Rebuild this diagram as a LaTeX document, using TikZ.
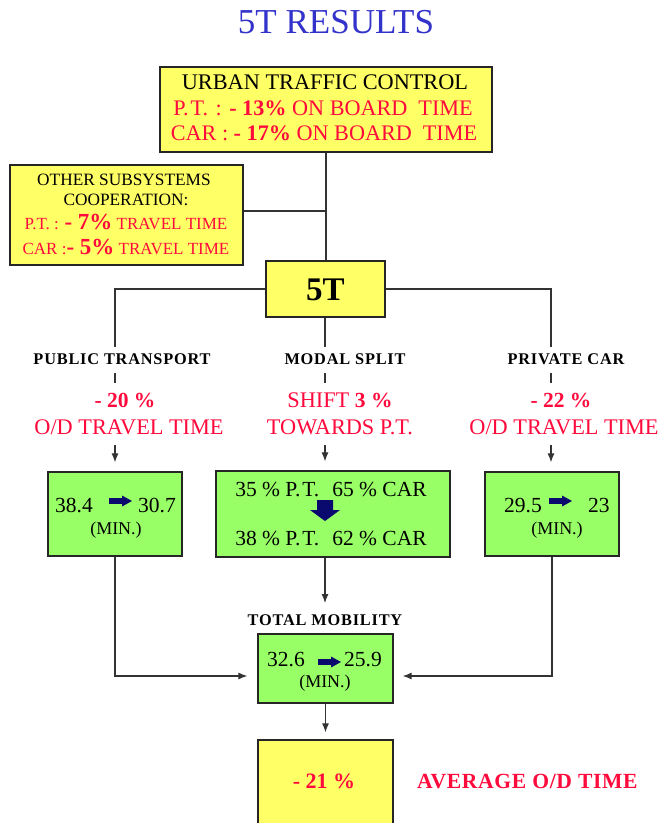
\documentclass[tikz,border=0pt]{standalone}
\usepackage{fontspec}
\setmainfont{Liberation Serif}
\newfontfamily\spacedfont[LetterSpace=5]{Liberation Serif}
\newfontfamily\spacedfontb[LetterSpace=3]{Liberation Serif}
\usetikzlibrary{arrows.meta}
\definecolor{byellow}{HTML}{FFFF66}
\definecolor{bgreen}{HTML}{99FF66}
\definecolor{tred}{RGB}{255,10,60}
\definecolor{tblue}{HTML}{3333CC}
\definecolor{navy}{RGB}{10,10,110}
\newcommand\fsz[1]{\fontsize{#1}{#1}\selectfont}
\newcommand\pdot{.\kern2pt}
\begin{document}
\begin{tikzpicture}[x=1pt,y=-1pt,
  box/.style={draw=black!85, line width=1.3pt, inner sep=0, rectangle},
  ybox/.style={box, fill=byellow},
  gbox/.style={box, fill=bgreen},
  txt/.style={inner sep=0, anchor=base},
  conn/.style={draw=black!80, line width=1.1pt},
  arr/.style={conn, -{Latex[length=9pt,width=7pt]}},
  rarrow/.pic={\fill[navy] (0,-2.8) -- (13,-2.8) -- (13,-5.5) -- (23,0) -- (13,5.5) -- (13,2.8) -- (0,2.8) -- cycle;},
  darrow/.pic={\fill[navy] (-8,0) -- (8,0) -- (8,10) -- (15,10) -- (0,21) -- (-15,10) -- (-8,10) -- cycle;}
]
\fill[white] (0,0) rectangle (662,823);
\useasboundingbox (0,0) rectangle (662,823);

% title
\node[txt, text=tblue, font=\fsz{35}] (title) at (336,33) {5T RESULTS};

% urban traffic control
\node[ybox, minimum width=332, minimum height=85] (utc) at (326,109.5) {};
\node[txt, font=\fsz{22.3}] (utc1) at (325,89) {URBAN TRAFFIC CONTROL};
\node[txt, font=\fsz{22.2}, text=tred] (utc2) at (323,115) {P\pdot T\pdot{} : \textbf{- 13\%} ON BOARD\hspace{11pt}TIME};
\node[txt, font=\fsz{22.2}, text=tred] (utc3) at (324,140) {CAR : \textbf{- 17\%} ON BOARD\hspace{11pt}TIME};

% other subsystems
\node[ybox, minimum width=233, minimum height=100] (other) at (126.5,215) {};
\node[txt, font=\fsz{17.3}] (oth1) at (124,185) {OTHER SUBSYSTEMS};
\node[txt, font=\fsz{17.3}] (oth2) at (126,205) {COOPERATION:};
\node[txt, font=\fsz{17}, text=tred] (oth3) at (126,229) {P.T. : \textbf{\fsz{23}- 7\%} TRAVEL TIME};
\node[txt, font=\fsz{17}, text=tred] (oth4) at (126,254) {CAR :\textbf{\fsz{23}- 5\%} TRAVEL TIME};

% 5T
\node[ybox, minimum width=119, minimum height=56] (fivet) at (325.5,289) {};
\node[txt, font=\fsz{33}\bfseries] (fivettxt) at (325.5,300) {5T};

% connectors top
\coordinate (j1) at (325,211);
\draw[conn] (utc.south) -- (utc.south |- fivet.north);
\draw[conn] (j1 -| other.east) -- (j1);

% branch labels
\node[txt, font=\fsz{16.3}\spacedfont\bfseries] (lpt) at (122,364) {PUBLIC TRANSPORT};
\node[txt, font=\fsz{16.3}\spacedfont\bfseries] (lms) at (345,364) {MODAL SPLIT};
\node[txt, font=\fsz{16.3}\spacedfont\bfseries] (lpc) at (566,364) {PRIVATE CAR};

\coordinate (ptA) at (115,347);
\coordinate (msA) at (325,347);
\coordinate (pcA) at (551,347);
\draw[conn] (fivet.west) -| (ptA);
\draw[conn] (fivet.east) -| (pcA);
\draw[conn] (msA |- fivet.south) -- (msA);

\coordinate (ptT1) at (115,373); \coordinate (ptT2) at (115,383);
\coordinate (msT1) at (325,373); \coordinate (msT2) at (325,383);
\coordinate (pcT1) at (551,373); \coordinate (pcT2) at (551,383);
\draw[conn] (ptT1) -- (ptT2);
\draw[conn] (msT1) -- (msT2);
\draw[conn] (pcT1) -- (pcT2);

% red texts
\node[txt, font=\fsz{21.5}\bfseries, text=tred] (ptpct) at (125,407) {- 20 \%};
\node[txt, font=\fsz{22.3}, text=tred] (ptod) at (129,434) {O/D TRAVEL TIME};
\node[txt, font=\fsz{22.3}, text=tred] (msshift) at (340,407) {SHIFT \textbf{\fsz{21.5}3 \%}};
\node[txt, font=\fsz{22.3}, text=tred] (mstow) at (340,434) {TOWARDS P.T.};
\node[txt, font=\fsz{21.5}\bfseries, text=tred] (pcpct) at (561,407) {- 22 \%};
\node[txt, font=\fsz{22.3}, text=tred] (pcod) at (564,434) {O/D TRAVEL TIME};

% green boxes
\node[gbox, minimum width=134, minimum height=84] (ptbox) at (115,514) {};
\node[gbox, minimum width=234, minimum height=86] (msbox) at (333,514) {};
\node[gbox, minimum width=134, minimum height=84] (pcbox) at (552,514) {};

\coordinate (ptB) at (115,445);
\coordinate (msB) at (325,445);
\coordinate (pcB) at (551,445);
\draw[arr, shorten >=9pt] (ptB) -- (ptB |- ptbox.north);
\draw[arr, shorten >=9pt] (msB) -- (msB |- msbox.north);
\draw[arr, shorten >=9pt] (pcB) -- (pcB |- pcbox.north);

% PT box content
\node[txt, anchor=base west, font=\fsz{21.5}] (pt1) at (55,512) {38.4};
\pic at (109,501) {rarrow};
\node[txt, anchor=base west, font=\fsz{21.5}] (pt2) at (138,512) {30.7};
\node[txt, font=\fsz{18}] (ptmin) at (116,534) {(MIN.)};

% MS box content
\node[txt, font=\fsz{21.5}] (ms1) at (331,496) {35 \% P\pdot T\pdot\hspace{11pt}65 \% CAR};
\pic at (325,500) {darrow};
\node[txt, font=\fsz{21.5}] (ms2) at (331,545) {38 \% P\pdot T\pdot\hspace{11pt}62 \% CAR};

% PC box content
\node[txt, anchor=base west, font=\fsz{21.5}] (pc1) at (504,512) {29.5};
\pic at (549,501) {rarrow};
\node[txt, anchor=base west, font=\fsz{21.5}] (pc2) at (588,512) {23};
\node[txt, font=\fsz{18}] (pcmin) at (557,534) {(MIN.)};

% total mobility
\node[txt, font=\fsz{16.3}\spacedfont\bfseries] (totlbl) at (325,625) {TOTAL MOBILITY};
\node[gbox, minimum width=135, minimum height=69] (totbox) at (325.5,668.5) {};
\node[txt, anchor=base west, font=\fsz{21.5}] (tot1) at (267,666) {32.6};
\pic at (318,662) {rarrow};
\node[txt, anchor=base west, font=\fsz{21.5}] (tot2) at (344,666) {25.9};
\node[txt, font=\fsz{18}] (totmin) at (325,687) {(MIN.)};

\coordinate (ptC) at (115,676);
\coordinate (msD) at (325,603);
\draw[arr, shorten >=10pt] (ptbox.south) -- (ptC) -- (ptC -| totbox.west);
\draw[arr, shorten >=9pt] (pcbox.south) -- (pcbox.south |- ptC) -- (ptC -| totbox.east);
\draw[arr] (msA |- msbox.south) -- (msD);

% result
\node[ybox, minimum width=135, minimum height=90] (resbox) at (325.5,785) {};
\draw[arr, shorten >=7pt] (totbox.south) -- (resbox.north);
\node[txt, font=\fsz{22}\bfseries, text=tred] (res1) at (324,788) {- 21 \%};
\node[txt, anchor=base west, font=\fsz{21.6}\spacedfontb\bfseries, text=tred] (res2) at (417,788) {AVERAGE O/D TIME};
\end{tikzpicture}
\end{document}
